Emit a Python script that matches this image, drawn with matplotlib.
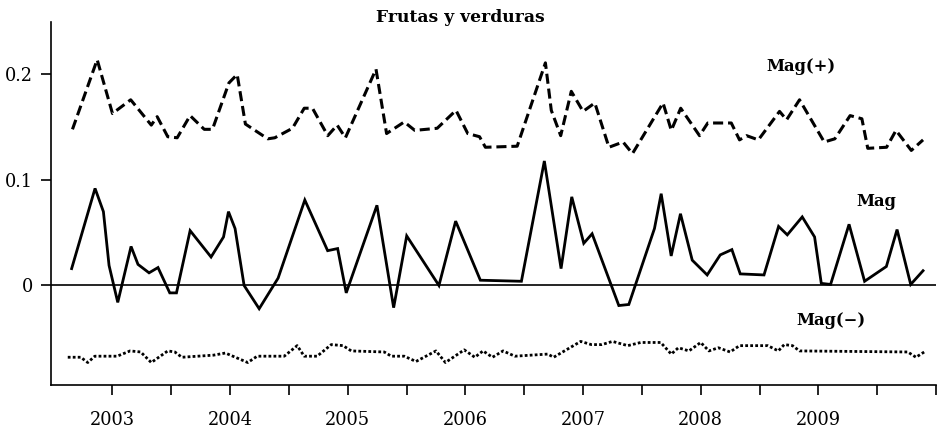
import matplotlib
matplotlib.use("Agg")
import matplotlib.pyplot as plt
from matplotlib.ticker import FixedLocator, NullFormatter

# ---- data (decimal years) ----
mag_x = [2002.653, 2002.852, 2002.923, 2002.971, 2003.045, 2003.158, 2003.217, 2003.311,
         2003.387, 2003.487, 2003.544, 2003.660, 2003.838, 2003.944, 2003.986, 2004.042,
         2004.119, 2004.247, 2004.408, 2004.635, 2004.829, 2004.914, 2004.987, 2005.248,
         2005.390, 2005.501, 2005.775, 2005.917, 2006.127, 2006.476, 2006.671, 2006.813,
         2006.904, 2007.006, 2007.077, 2007.304, 2007.389, 2007.607, 2007.664, 2007.749,
         2007.828, 2007.928, 2008.055, 2008.166, 2008.265, 2008.336, 2008.538, 2008.662,
         2008.736, 2008.863, 2008.968, 2009.025, 2009.104, 2009.261, 2009.393, 2009.578,
         2009.669, 2009.785, 2009.890]
mag_y = [0.016, 0.092, 0.070, 0.019, -0.016, 0.037, 0.020, 0.012,
         0.017, -0.007, -0.007, 0.052, 0.027, 0.046, 0.070, 0.054,
         0.000, -0.022, 0.007, 0.081, 0.033, 0.035, -0.007, 0.076,
         -0.021, 0.047, 0.000, 0.061, 0.005, 0.004, 0.118, 0.016,
         0.084, 0.040, 0.049, -0.019, -0.018, 0.054, 0.087, 0.028,
         0.068, 0.024, 0.010, 0.029, 0.034, 0.011, 0.010, 0.056,
         0.048, 0.065, 0.046, 0.002, 0.001, 0.058, 0.004, 0.018,
         0.053, 0.001, 0.014]

magp_x = [2002.66, 2002.87, 2003.00, 2003.155, 2003.33, 2003.38, 2003.47, 2003.55,
          2003.66, 2003.78, 2003.85, 2003.99, 2004.06, 2004.13, 2004.32, 2004.38,
          2004.53, 2004.63, 2004.70, 2004.83, 2004.91, 2004.98, 2005.24, 2005.33,
          2005.48, 2005.57, 2005.76, 2005.92, 2006.02, 2006.12, 2006.17, 2006.44,
          2006.68, 2006.73, 2006.81, 2006.90, 2007.00, 2007.10, 2007.22, 2007.34,
          2007.42, 2007.68, 2007.75, 2007.83, 2007.99, 2008.06, 2008.26, 2008.33,
          2008.39, 2008.49, 2008.67, 2008.73, 2008.84, 2009.05, 2009.14, 2009.27,
          2009.37, 2009.42, 2009.58, 2009.66, 2009.79, 2009.89]
magp_y = [0.148, 0.214, 0.163, 0.176, 0.152, 0.160, 0.141, 0.140,
          0.161, 0.148, 0.148, 0.192, 0.200, 0.153, 0.139, 0.140,
          0.149, 0.168, 0.168, 0.142, 0.152, 0.140, 0.205, 0.144,
          0.155, 0.147, 0.149, 0.166, 0.144, 0.141, 0.131, 0.132,
          0.211, 0.166, 0.142, 0.184, 0.165, 0.173, 0.131, 0.136,
          0.125, 0.173, 0.147, 0.168, 0.142, 0.154, 0.154, 0.138,
          0.142, 0.138, 0.165, 0.157, 0.176, 0.136, 0.139, 0.161,
          0.158, 0.130, 0.131, 0.147, 0.128, 0.138]

magm_x = [2002.62, 2002.73, 2002.79, 2002.85, 2003.04, 2003.15, 2003.24, 2003.33,
          2003.47, 2003.53, 2003.59, 2003.86, 2003.96, 2004.15, 2004.23, 2004.46,
          2004.57, 2004.63, 2004.74, 2004.86, 2004.96, 2005.03, 2005.31, 2005.37,
          2005.48, 2005.58, 2005.75, 2005.83, 2005.99, 2006.08, 2006.15, 2006.23,
          2006.32, 2006.42, 2006.70, 2006.75, 2006.98, 2007.07, 2007.16, 2007.25,
          2007.38, 2007.49, 2007.66, 2007.75, 2007.81, 2007.90, 2008.00, 2008.07,
          2008.15, 2008.25, 2008.33, 2008.57, 2008.66, 2008.71, 2008.78, 2008.84,
          2009.76, 2009.83, 2009.90]
magm_y = [-0.068, -0.068, -0.073, -0.067, -0.067, -0.062, -0.063, -0.073,
          -0.062, -0.063, -0.068, -0.066, -0.064, -0.073, -0.067, -0.067,
          -0.057, -0.067, -0.067, -0.056, -0.057, -0.062, -0.063, -0.067,
          -0.067, -0.072, -0.062, -0.073, -0.061, -0.068, -0.062, -0.068,
          -0.062, -0.067, -0.065, -0.068, -0.053, -0.056, -0.056, -0.053,
          -0.057, -0.054, -0.054, -0.065, -0.059, -0.062, -0.054, -0.062,
          -0.059, -0.063, -0.057, -0.057, -0.062, -0.056, -0.057, -0.062,
          -0.063, -0.068, -0.063]

year_ticks = [2003, 2004, 2005, 2006, 2007, 2008, 2009]
year_labels = ["2003", "2004", "2005", "2006", "2007", "2008", "2009"]
minor_ticks = [2003.5, 2004.5, 2005.5, 2006.5, 2007.5, 2008.5, 2009.5, 2010.0]
y_ticks = [0, 0.1, 0.2]
y_labels = ["0", "0.1", "0.2"]

title = "Frutas y verduras"
lab_plus, lab_mag, lab_minus = "Mag(+)", "Mag", "Mag(\u2212)"

# ---- figure ----
SERIF = ["DejaVu Serif"]
fig = plt.figure(figsize=(9.48, 4.32), dpi=100)
ax = fig.add_axes([50.7 / 948, 47 / 432, (936 - 50.7) / 948, (385 - 21.7) / 432])

ax.plot(magp_x, magp_y, color="black", lw=2.2, dashes=(3.3, 1.6))
ax.plot(mag_x, mag_y, color="black", lw=2.0, solid_joinstyle="miter")
ax.plot(magm_x, magm_y, color="black", lw=2.0, dashes=(1.0, 0.8))
ax.axhline(0, color="black", lw=1.2)

ax.set_xlim(2002.475, 2010.0)
ax.set_ylim(-0.0943, 0.25)

ax.set_xticks(year_ticks)
ax.set_xticklabels(year_labels)
ax.xaxis.set_minor_locator(FixedLocator(minor_ticks))
ax.xaxis.set_minor_formatter(NullFormatter())
ax.set_yticks(y_ticks)
ax.set_yticklabels(y_labels)

for s in ["top", "right"]:
    ax.spines[s].set_visible(False)
for s in ["left", "bottom"]:
    ax.spines[s].set_linewidth(1.2)

ax.tick_params(axis="both", which="both", direction="out", length=7.5, width=1.2, color="black")
ax.tick_params(axis="x", which="major", pad=11)
ax.tick_params(axis="y", which="major", pad=5)
for lbl in ax.get_xticklabels() + ax.get_yticklabels():
    lbl.set_family(SERIF)
    lbl.set_fontsize(12.8)

fig.text(460 / 948, 1 - 17 / 432, title, ha="center", va="center",
         family=SERIF, fontweight="bold", fontsize=12.3)
ax.text(2008.855, 0.2074, lab_plus, ha="center", va="center", family=SERIF, fontweight="bold", fontsize=11.8)
ax.text(2009.493, 0.0794, lab_mag, ha="center", va="center", family=SERIF, fontweight="bold", fontsize=11.8)
ax.text(2009.110, -0.0334, lab_minus, ha="center", va="center", family=SERIF, fontweight="bold", fontsize=11.8)

fig.savefig("out.png", dpi=100)
